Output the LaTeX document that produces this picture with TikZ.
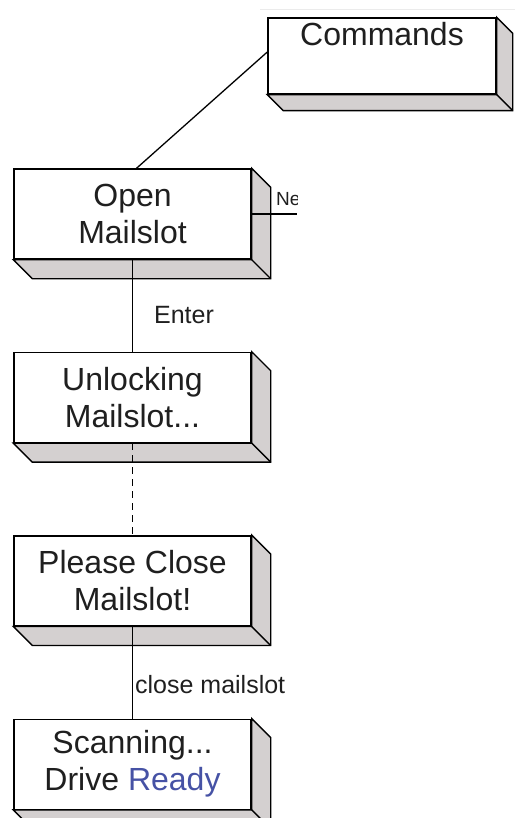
\documentclass[tikz,border=0pt]{standalone}
\usepackage{fontspec}
\setmainfont{Liberation Sans}
\usepackage{tikz}
\usetikzlibrary{positioning}

\definecolor{sidegray}{RGB}{212,208,208}
\definecolor{readyblue}{RGB}{70,82,165}

\begin{document}
\begin{tikzpicture}[x=1pt, y=-1pt,
  screen/.style={draw, line width=1.4pt, fill=white, minimum width=237pt, minimum height=90pt,
    align=center, text=black!88, font=\fontsize{32}{37}\selectfont},
  lbl/.style={text=black!88, font=\fontsize{25}{30}\selectfont, inner sep=2pt},
  link/.style={line width=1.3pt},
  node distance=92pt]
  \useasboundingbox (0,0) rectangle (515,818);
  \clip (0,0) rectangle (515,818);
  % faint edge of the screen grab
  \draw[black!8, line width=1pt] (260,10) -- (515,10);
  % Screens
  \node[screen, minimum width=228pt, minimum height=76pt] (cmd) at (382,56) {Commands\\[7pt]~};
  \node[screen] (open) at (132.5,214) {Open\\Mailslot};
  \node[screen, below=of open] (unlock) {Unlocking\\Mailslot...};
  \node[screen, below=of unlock] (close) {Please Close\\Mailslot!};
  \node[screen, below=of close] (scan) {Scanning...\\Drive \textcolor{readyblue}{Ready}};
  % Depth of each screen
  \foreach \n/\d in {cmd/16, open/19, unlock/19, close/19, scan/19} {
    \draw[line width=1.4pt, fill=sidegray] (\n.north east) -- ([shift={(\d,\d)}]\n.north east)
      -- ([shift={(\d,\d)}]\n.south east) -- ([shift={(\d,\d)}]\n.south west)
      -- (\n.south west) -- (\n.south east) -- cycle;
    \draw[line width=1.4pt] (\n.south east) -- ([shift={(\d,\d)}]\n.south east);
  }
  % Transitions
  \draw[link] ([yshift=4pt]cmd.west) -- ([xshift=4pt]open.north);
  \coordinate (nxt) at (297,214);
  \draw[link] (open.east) -- (nxt);
  \begin{scope}
    \clip (270,180) rectangle (297,212);
    \node[lbl, font=\fontsize{19}{22}\selectfont, anchor=west] (nelbl) at (274,199) {Ne};
  \end{scope}
  \draw[link] (open.south) -- node[lbl, right, pos=0.6, xshift=19pt] (enter) {Enter} (unlock.north);
  \draw[link, dash pattern=on 7pt off 5pt] (unlock.south) -- (close.north);
  \draw[link] (close.south) -- node[lbl, right, pos=0.63] (cls) {close mailslot} (scan.north);
\end{tikzpicture}
\end{document}
